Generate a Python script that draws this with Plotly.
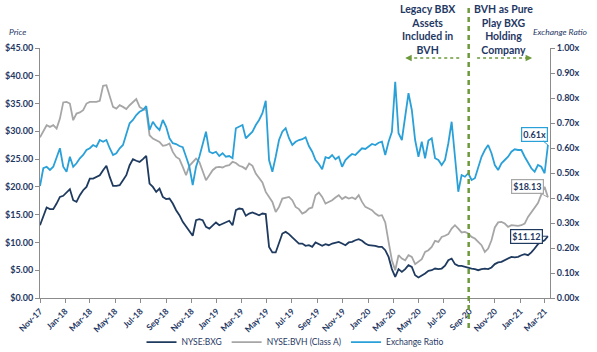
import pandas as pd
import plotly.graph_objects as go

# ---------------- data (8-day sampling) ----------------
start_date = "2017-11-01"
step_days = 8

bxg = [13.1, 14.6, 16.3, 16.0, 16.0, 17.0, 18.2, 18.4, 19.1, 19.6, 17.6, 17.3, 18.5, 19.4, 20.0, 21.5,
       21.5, 21.8, 22.1, 23.0, 23.8, 21.8, 20.2, 20.2, 20.3, 21.2, 22.1, 23.9, 25.0, 24.7, 24.5, 25.0,
       25.6, 20.6, 20.0, 19.1, 19.7, 18.2, 17.8, 17.9,
       17.0, 15.8, 14.9, 13.7, 12.8, 11.9, 11.2, 14.0, 14.2, 14.0, 12.8, 12.5, 13.1, 13.6, 13.1, 13.4,
       13.7, 13.9, 13.1, 15.8, 16.1, 16.0, 14.8, 15.2, 15.4, 15.1, 14.9, 15.2, 15.1, 9.2, 8.2, 8.2,
       10.1, 11.6, 11.9, 11.5, 10.9, 10.4, 9.8,
       9.8, 9.4, 9.5, 9.2, 10.0, 9.7, 9.4, 9.7, 9.5, 9.8, 10.0, 10.1, 9.8, 9.5, 10.0, 10.1,
       10.4, 10.6, 10.3, 9.8, 9.5, 9.5, 9.4, 9.2, 9.2, 8.6, 7.4, 5.2, 3.8, 5.2, 4.7, 5.2,
       5.9, 5.6, 4.1, 3.7, 4.0, 4.4, 4.9,
       5.0, 5.3, 5.2, 5.3, 5.8, 6.8, 7.1, 6.1, 5.8, 5.8, 5.6, 5.5, 5.3, 5.2, 5.0, 5.2,
       5.3, 5.2, 5.5, 6.1, 6.4, 6.5, 6.8, 7.1, 7.4, 7.3, 7.4, 7.7, 7.9, 7.7, 8.2, 8.9,
       9.7, 10.1, 10.4, 11.12]

bvh = [28.9, 29.9, 31.1, 30.8, 31.1, 30.5, 32.3, 35.2, 35.3, 35.0, 32.0, 33.2, 33.4, 33.8, 35.0, 35.3,
       35.3, 35.3, 35.5, 38.2, 38.3, 36.2, 34.4, 34.1, 34.7, 34.4, 34.0, 34.7, 35.2, 35.8, 34.4, 34.0,
       33.8, 29.3, 28.7, 28.4, 28.1, 27.4, 27.5, 27.8,
       26.3, 25.4, 25.0, 23.6, 22.1, 23.8, 24.5, 25.1, 24.5, 23.0, 21.2, 22.1, 23.0, 23.5, 23.6, 23.5,
       23.8, 23.9, 24.5, 24.3, 23.8, 23.6, 23.2, 24.2, 23.8, 22.4, 21.7, 20.8, 19.1, 18.2, 17.3, 15.5,
       16.4, 17.9, 18.1, 18.2, 17.6, 16.4, 16.0,
       15.2, 15.5, 16.1, 16.3, 18.5, 19.0, 18.2, 17.0, 17.3, 17.6, 18.1, 18.5, 17.8, 18.2, 17.9, 18.1,
       17.8, 18.5, 17.3, 16.4, 16.1, 15.8, 15.2, 14.8, 14.9, 13.6, 10.1, 6.8, 5.0, 7.7, 7.1, 6.8,
       7.7, 7.4, 6.1, 6.5, 7.0, 8.3, 8.6,
       9.2, 10.3, 10.1, 11.0, 11.2, 11.5, 12.5, 13.1, 12.5, 11.8, 11.9, 11.6, 11.0, 10.7, 10.1, 9.5,
       8.3, 8.9, 10.4, 12.7, 13.6, 13.7, 13.4, 12.8, 13.1, 13.0, 13.0, 13.1, 13.4, 14.6, 15.5, 16.4,
       17.1, 18.6, 20.0, 18.13]

ratio = [0.448, 0.519, 0.525, 0.512, 0.525, 0.565, 0.599, 0.525, 0.505, 0.565, 0.525, 0.539, 0.559, 0.572, 0.592, 0.599,
         0.612, 0.605, 0.632, 0.625, 0.632, 0.599, 0.572, 0.579, 0.599, 0.612, 0.652, 0.699, 0.712, 0.732, 0.745, 0.752,
         0.768, 0.672, 0.705, 0.685, 0.672, 0.712, 0.685, 0.639,
         0.619, 0.616, 0.608, 0.603, 0.565, 0.525, 0.452, 0.525, 0.565, 0.619, 0.665, 0.585, 0.579, 0.585, 0.568, 0.579,
         0.565, 0.568, 0.559, 0.679, 0.685, 0.692, 0.639, 0.652, 0.665, 0.692, 0.712, 0.739, 0.789, 0.552, 0.505, 0.565,
         0.632, 0.665, 0.679, 0.639, 0.612, 0.625, 0.632,
         0.635, 0.643, 0.608, 0.585, 0.552, 0.536, 0.515, 0.563, 0.559, 0.572, 0.555, 0.565, 0.525, 0.552, 0.565, 0.576,
         0.572, 0.585, 0.599, 0.596, 0.608, 0.616, 0.612, 0.621, 0.625, 0.572, 0.625, 0.665, 0.865, 0.659, 0.632, 0.719,
         0.819, 0.752, 0.632, 0.565, 0.625, 0.559, 0.630,
         0.639, 0.559, 0.552, 0.532, 0.552, 0.619, 0.705, 0.565, 0.425, 0.492, 0.485, 0.499, 0.472, 0.479, 0.519, 0.565,
         0.592, 0.612, 0.579, 0.532, 0.512, 0.539, 0.552, 0.565, 0.585, 0.595, 0.592, 0.592, 0.565, 0.539, 0.519, 0.505,
         0.532, 0.525, 0.499, 0.612]

series_names = ["NYSE:BXG", "NYSE:BVH (Class A)", "Exchange Ratio"]
divider_date = "2020-08-30"
x_range = ["2017-11-01", "2021-03-14"]
left_note = "Legacy BBX<br>Assets<br>Included in<br>BVH"
right_note = "BVH as Pure<br>Play BXG<br>Holding<br>Company"

# ---------------- styles ----------------
NAVY = "#1F3A5F"
GRAY = "#A6A6A6"
BLUE = "#2AA0D8"
GREEN = "#6E9A3C"
TEXT = "#1F3864"
AXIS = "#8C8C8C"
FONT = "Lato"

dates = pd.date_range(start_date, periods=len(bxg), freq=f"{step_days}D")

fig = go.Figure()
fig.add_trace(go.Scatter(x=dates, y=bxg, name=series_names[0], mode="lines",
                         line=dict(color=NAVY, width=1.8), yaxis="y"))
fig.add_trace(go.Scatter(x=dates, y=bvh, name=series_names[1], mode="lines",
                         line=dict(color=GRAY, width=1.8), yaxis="y"))
fig.add_trace(go.Scatter(x=dates, y=ratio, name=series_names[2], mode="lines",
                         line=dict(color=BLUE, width=1.8), yaxis="y2"))

axis_common = dict(showline=True, linecolor=AXIS, linewidth=1, ticks="outside",
                   ticklen=4, tickcolor=AXIS, showgrid=False, zeroline=False,
                   automargin=False)

fig.update_layout(
    width=597, height=352,
    margin=dict(l=40, r=47, t=48, b=54),
    paper_bgcolor="white", plot_bgcolor="white",
    font=dict(family=FONT, color=TEXT),
    showlegend=True,
    legend=dict(orientation="h", x=0.5, xanchor="center", yref="container", y=0.028,
                yanchor="middle", font=dict(family=FONT, size=8.5, color=TEXT), itemwidth=30,
                bgcolor="rgba(0,0,0,0)"),
    xaxis=dict(type="date", range=x_range, tick0="2017-11-01", dtick="M2",
               tickformat="%b-%y", tickangle=-45,
               tickfont=dict(family=FONT, size=8.5, color=TEXT, weight="bold"), **axis_common),
    yaxis=dict(range=[0, 45], dtick=5, tickprefix="$", tickformat=".2f",
               tickfont=dict(family=FONT, size=9, color=TEXT, weight="bold"), **axis_common),
    yaxis2=dict(range=[0, 1], dtick=0.1, tickformat=".2f", ticksuffix="x",
                overlaying="y", side="right",
                tickfont=dict(family=FONT, size=9, color=TEXT, weight="bold"), **axis_common),
)

# vertical divider
fig.add_shape(type="line", xref="x", yref="paper", x0=divider_date, x1=divider_date,
              y0=-0.12, y1=1.175, line=dict(color=GREEN, width=2.5, dash="5px,4px"))

# dotted arrows
fig.add_shape(type="line", xref="paper", yref="paper", x0=0.722, x1=0.826, y0=0.96, y1=0.96,
              line=dict(color=GREEN, width=1.3, dash="dot"))
fig.add_shape(type="line", xref="paper", yref="paper", x0=0.857, x1=0.958, y0=0.96, y1=0.96,
              line=dict(color=GREEN, width=1.3, dash="dot"))
fig.add_annotation(xref="paper", yref="paper", x=0.716, y=0.96, ax=7, ay=0, text="",
                   showarrow=True, arrowhead=2, arrowsize=1, arrowwidth=1.3, arrowcolor=GREEN)
fig.add_annotation(xref="paper", yref="paper", x=0.965, y=0.96, ax=-7, ay=0, text="",
                   showarrow=True, arrowhead=2, arrowsize=1, arrowwidth=1.3, arrowcolor=GREEN)

# top notes
fig.add_annotation(xref="paper", yref="paper", x=0.761, y=1.072, xanchor="center", yanchor="middle",
                   text=f"<b>{left_note}</b>", showarrow=False, align="center",
                   font=dict(family=FONT, size=10.5, color=TEXT))
fig.add_annotation(xref="paper", yref="paper", x=0.908, y=1.072, xanchor="center", yanchor="middle",
                   text=f"<b>{right_note}</b>", showarrow=False, align="center",
                   font=dict(family=FONT, size=10.5, color=TEXT))

# axis titles
fig.add_annotation(xref="paper", yref="paper", x=-0.045, y=1.064, xanchor="center", yanchor="middle",
                   text="<i>Price</i>", showarrow=False, font=dict(family=FONT, size=8.5, color=TEXT))
fig.add_annotation(xref="paper", yref="paper", x=1.02, y=1.064, xanchor="center", yanchor="middle",
                   text="<i>Exchange Ratio</i>", showarrow=False,
                   font=dict(family=FONT, size=8.5, color=TEXT))

# end value labels
fig.add_annotation(x=dates[-1], y=ratio[-1], xref="x", yref="y2", text=f"<b>{ratio[-1]:.2f}x</b>",
                   showarrow=True, ax=-13, ay=-11, arrowhead=0, arrowwidth=1, arrowcolor=BLUE,
                   bordercolor=BLUE, borderwidth=1.2, borderpad=1, bgcolor="white",
                   font=dict(family=FONT, size=9, color=TEXT))
fig.add_annotation(x=dates[-1], y=bvh[-1], xref="x", yref="y", text=f"<b>${bvh[-1]:.2f}</b>",
                   showarrow=True, ax=-20, ay=-11, arrowhead=0, arrowwidth=1, arrowcolor=GRAY,
                   bordercolor=GRAY, borderwidth=1.2, borderpad=1, bgcolor="white",
                   font=dict(family=FONT, size=9, color=TEXT))
fig.add_annotation(x=dates[-1], y=bxg[-1], xref="x", yref="y", text=f"<b>${bxg[-1]:.2f}</b>",
                   showarrow=True, ax=-21, ay=0, arrowhead=0, arrowwidth=1, arrowcolor=NAVY,
                   bordercolor=NAVY, borderwidth=1.2, borderpad=1, bgcolor="white",
                   font=dict(family=FONT, size=9, color=TEXT))

fig.write_html("out.html")
